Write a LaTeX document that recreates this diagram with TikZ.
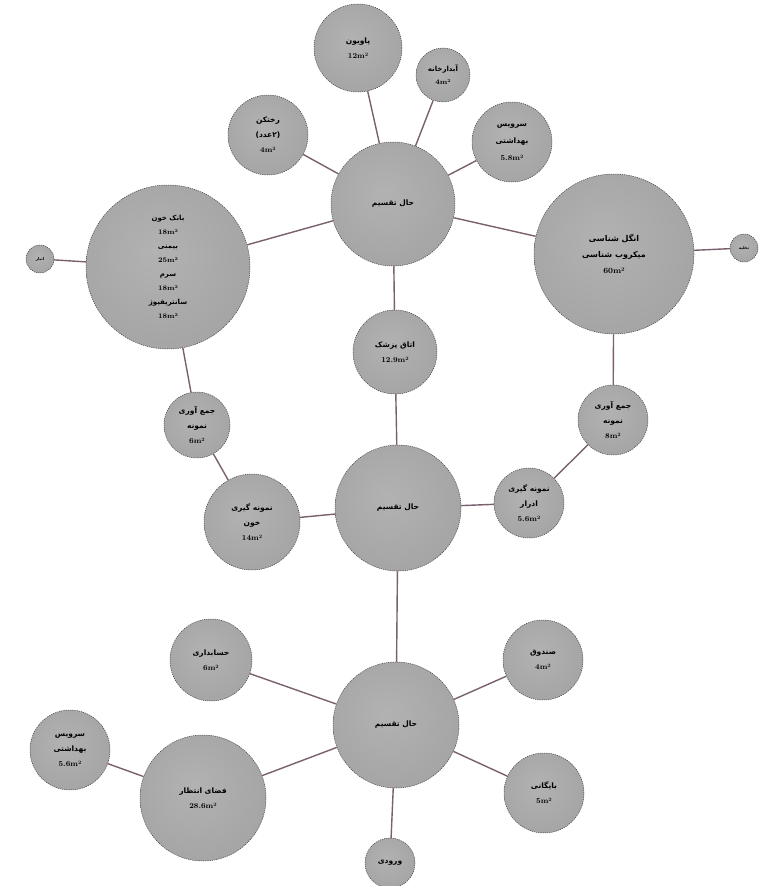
\documentclass[tikz,border=0pt]{standalone}
\usepackage{fontspec}
\newfontfamily\arabicfont[Script=Arabic]{DejaVu Sans}
\TeXXeTstate=1
\newcommand\faT[1]{{\arabicfont\bfseries\beginR #1\endR}}
\definecolor{bubA}{HTML}{B2B2B2}
\definecolor{bubB}{HTML}{A4A4A4}
\definecolor{bubC}{HTML}{5E5E5E}
\definecolor{linkc}{HTML}{7A5F6E}
\pgfdeclareradialshading{bubble}{\pgfpoint{-4bp}{5bp}}{color(0bp)=(bubA);color(30bp)=(bubB);color(43bp)=(bubB);color(53bp)=(bubC)}
\tikzset{
  bub/.style={circle, shading=bubble, draw=black!75, dash pattern=on 1.2pt off 1pt, line width=0.5pt,
    inner sep=0pt, minimum size=#1, align=center, font=\fontsize{7.5}{15}\selectfont\bfseries},
  link/.style={draw=linkc, line width=1.4pt}
}
\begin{document}
\begin{tikzpicture}[x=1pt,y=-1pt]
\useasboundingbox (0,0) rectangle (780,886);
% top cluster
\node[bub=124pt] (h1) at (393,204) {\faT{حال تقسیم}};
\node[bub=88pt] (pav) at (358,48) {\faT{پاویون}\\12m²};
\node[bub=54pt, font=\fontsize{7}{13}\selectfont\bfseries] (abd) at (443,75) {\faT{آبدارخانه}\\4m²};
\node[bub=80pt, font=\fontsize{7.5}{17}\selectfont\bfseries] (wc1) at (512,142) {\faT{سرویس}\\\faT{بهداشتی}\\5.8m²};
\node[bub=80pt] (rkh) at (268,135) {\faT{رختکن}\\\faT{(۲عدد)}\\4m²};
\node[bub=164pt, font=\fontsize{7}{14}\selectfont\bfseries] (bank) at (168,267) {\faT{بانک خون}\\18m²\\\faT{بیمنی}\\25m²\\\faT{سرم}\\18m²\\\faT{سانتریفیوژ}\\18m²};
\node[bub=28pt, font=\fontsize{4}{5}\selectfont\bfseries] (sl) at (40,259) {\faT{انبار}};
\node[bub=160pt, font=\fontsize{8}{16}\selectfont\bfseries] (mic) at (614,254) {\faT{انگل شناسی}\\\faT{میکروب شناسی}\\60m²};
\node[bub=28pt, font=\fontsize{4}{5}\selectfont\bfseries] (sr) at (744,248) {\faT{تخلیه}};
\node[bub=84pt] (doc) at (395,352) {\faT{اتاق پزشک}\\12.9m²};
% middle cluster
\node[bub=126pt] (h2) at (398,508) {\faT{حال تقسیم}};
\node[bub=66pt] (jl) at (197,425) {\faT{جمع آوری}\\\faT{نمونه}\\6m²};
\node[bub=70pt] (jr) at (613,420) {\faT{جمع آوری}\\\faT{نمونه}\\8m²};
\node[bub=96pt] (nkh) at (252,522) {\faT{نمونه گیری}\\\faT{خون}\\14m²};
\node[bub=70pt] (nad) at (529,503) {\faT{نمونه گیری}\\\faT{ادرار}\\5.6m²};
% bottom cluster
\node[bub=126pt] (h3) at (396,725) {\faT{حال تقسیم}};
\node[bub=82pt] (hes) at (211,660) {\faT{حسابداری}\\6m²};
\node[bub=80pt] (snd) at (543,660) {\faT{صندوق}\\4m²};
\node[bub=80pt] (bay) at (544,793) {\faT{بایگانی}\\5m²};
\node[bub=50pt] (vor) at (390,863) {\faT{ورودی}};
\node[bub=126pt] (fz) at (203,798) {\faT{فضای انتظار}\\28.6m²};
\node[bub=80pt] (wc2) at (70,750) {\faT{سرویس}\\\faT{بهداشتی}\\5.6m²};
% connectors
\draw[link] (h1) -- (pav);
\draw[link] (h1) -- (abd);
\draw[link] (h1) -- (wc1);
\draw[link] (h1) -- (rkh);
\draw[link] (h1) -- (bank);
\draw[link] (h1) -- (mic);
\draw[link] (h1) -- (doc);
\draw[link] (sl) -- (bank);
\draw[link] (sr) -- (mic);
\draw[link] (bank) -- (jl);
\draw[link] (jl) -- (nkh);
\draw[link] (nkh) -- (h2);
\draw[link] (doc) -- (h2);
\draw[link] (mic) -- (jr);
\draw[link] (jr) -- (nad);
\draw[link] (nad) -- (h2);
\draw[link] (h2) -- (h3);
\draw[link] (h3) -- (hes);
\draw[link] (h3) -- (snd);
\draw[link] (h3) -- (bay);
\draw[link] (h3) -- (vor);
\draw[link] (h3) -- (fz);
\draw[link] (fz) -- (wc2);
\end{tikzpicture}
\end{document}
